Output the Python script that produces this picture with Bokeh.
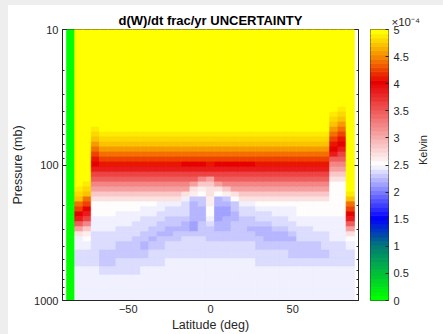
import math
from bokeh.plotting import figure
from bokeh.layouts import row, column
from bokeh.models import (Range1d, FixedTicker, LogAxis, LinearAxis,
                          ColumnDataSource, LinearColorMapper,
                          CustomJSTickFormatter, Div)
from bokeh.transform import transform
from bokeh.embed import file_html
from bokeh.resources import INLINE

TITLE = "d(W)/dt frac/yr UNCERTAINTY"
X_LABEL = "Latitude (deg)"
Y_LABEL = "Pressure (mb)"
CBAR_LABEL = "Kelvin"
CBAR_SCALE = "\u00d710\u207b\u2074"

# latitude bin centres (deg)
LATITUDES = [-85, -80, -75, -70, -65, -60, -55, -50, -45, -40, -35, -30,
             -25, -20, -15, -10, -5, 0, 5, 10, 15, 20, 25, 30, 35, 40, 45,
             50, 55, 60, 65, 70, 75, 80, 85]
LAT_HALF_WIDTH = 2.5

# pressure layer edges (mb), top to bottom
PRESSURE_EDGES = [10, 37.4, 40.7, 44.3, 48.2, 52.5, 57.1, 62.1, 67.7, 73.6,
                  80.2, 87.3, 95.0, 103.4, 112.5, 122.5, 133.3, 145.1, 157.9,
                  171.9, 187.1, 203.7, 221.7, 241.3, 262.7, 285.9, 311.2,
                  338.8, 368.8, 424.6, 488.9, 563.6, 648.9, 1000]

# uncertainty values (x1e-4) coded by one symbol per layer
LEVELS = {
    "G": 0.0, "Y": 5.0, "y": 4.9, "x": 4.8, "w": 4.7, "v": 4.6, "u": 4.45,
    "t": 4.25, "s": 4.1, "R": 4.0, "r": 3.9, "q": 3.65, "p": 3.45,
    "o": 3.25, "n": 3.05, "m": 2.85, "l": 2.7, "k": 2.6, "W": 2.55,
    "a": 2.46, "b": 2.38, "c": 2.31, "d": 2.24, "e": 2.16,
}

# one profile per latitude, layers top (10 mb) to bottom (1000 mb)
PROFILES = [
    "GGGGGGGGGGGGGGGGGGG" "GGGGGGGGGGGGGG",   # -85
    "YYYYYYYYYYYYYYYYYyx" "wutRrpnlaabbaa",   # -80
    "YYYYYYYYYYYYYYYYyxw" "utRrqomkWabbaa",   # -75
    "YYYYYyxwvutsRrqponm" "lWWWaaabbbbbaa",   # -70
    "YYYYYYyxwvutsrqponm" "lWWWaaabbbccba",   # -65
    "YYYYYYyxwvutsrqponm" "lWWWaaabbbccba",   # -60
    "YYYYYYyxwvutsrqponm" "lWWaaabbbccbba",   # -55
    "YYYYYYyxwvutsrqponm" "lWWaaabbbccbba",   # -50
    "YYYYYYyxwvutsrqponm" "lWWaabbbcccbba",   # -45
    "YYYYYYyxwvutsrqponm" "lWaabbbccdcbaa",   # -40
    "YYYYYYyxwvutsrqponm" "lWaabbccdcbbaa",   # -35
    "YYYYYYyxwvutsrqponm" "laabbccdccbbaa",   # -30
    "YYYYYYyxwvutsrqponm" "labbccddcbbaaa",   # -25
    "YYYYYYyxwvutsrqponm" "labbccdccbbaaa",   # -20
    "YYYYYYyxwvutRrqponl" "abbbcddcbbbaaa",   # -15
    "YYYYYYyxwvutRrqpnlk" "cddddeecbbbaaa",   # -10
    "YYYYYYyxwvutRrqomkW" "ccdddcccbbbaaa",   # -5
    "YYYYYYyxwvutsrqnmll" "kkWWabcccbbaaa",   # 0
    "YYYYYYyxwvutRrqpnlW" "ddeeeddccbbaaa",   # 5
    "YYYYYYyxwvutRrqpomk" "cdeedddccbbaaa",   # 10
    "YYYYYYyxwvutRrqponl" "Wccddccccbbaaa",   # 15
    "YYYYYYyxwvutRrqponm" "labbcccccbbaaa",   # 20
    "YYYYYYyxwvutRrqponm" "labbccdccbbaaa",   # 25
    "YYYYYYyxwvutsrqponm" "lWabbcddccbbaa",   # 30
    "YYYYYYyxwvutsrqponm" "lWabbcdddcbbaa",   # 35
    "YYYYYYyxwvutsrqponm" "lWaabbcddcbbaa",   # 40
    "YYYYYYyxwvutsrqponm" "lWaabbcddcbbaa",   # 45
    "YYYYYYyxwvutsrqponm" "lWaaabbcdccbaa",   # 50
    "YYYYYYyxwvutsrqponm" "lWWWaabbbccbaa",   # 55
    "YYYYYYyxwvutsrqponm" "lWWWaabbbccbaa",   # 60
    "YYYYYYyxwvutsrqponm" "lWWWaaabbccbaa",   # 65
    "YYYYYYyxwvutsrqponm" "lWWWaaabbbcbaa",   # 70
    "YYyxwvutsRrponmlWWW" "WWWWaaaaabbbaa",   # 75
    "YyxwvutsRrqponmlWWW" "WWWWaaaaabbbaa",   # 80
    "YYYYYYYYYYYYYYYYYYy" "wutRrpnlWabbaa",   # 85
]

X_TICKS = [-50, 0, 50]
Y_TICKS = [10, 100, 1000]
Y_MINOR = [20, 30, 40, 50, 60, 70, 80, 90, 200, 300, 400, 500, 600, 700, 800, 900]
CBAR_TICKS = [0, 0.5, 1, 1.5, 2, 2.5, 3, 3.5, 4, 4.5, 5]
CBAR_LOW, CBAR_HIGH = 0.0, 5.0

FONT = "Liberation Sans"
TEXT = "#262626"
GRAY = "#eeeeee"

# ---- colormap (green -> blue -> white -> red -> yellow) ----
CMAP_STOPS = [(0.0, (0, 255, 0)), (1.0, (0, 120, 120)), (1.5, (0, 0, 255)),
              (2.52, (255, 255, 255)), (4.05, (230, 0, 0)),
              (4.5, (245, 128, 0)), (5.0, (255, 255, 0))]
N_COLORS = 64


def cmap(v):
    for (v0, c0), (v1, c1) in zip(CMAP_STOPS[:-1], CMAP_STOPS[1:]):
        if v <= v1:
            t = (v - v0) / (v1 - v0)
            return "#%02x%02x%02x" % tuple(int(round(a + (b - a) * t)) for a, b in zip(c0, c1))
    return "#%02x%02x%02x" % CMAP_STOPS[-1][1]


PALETTE = [cmap(CBAR_LOW + (CBAR_HIGH - CBAR_LOW) * i / (N_COLORS - 1)) for i in range(N_COLORS)]
mapper = LinearColorMapper(palette=PALETTE, low=CBAR_LOW, high=CBAR_HIGH)

# ---- cells ----
cells = dict(left=[], right=[], top=[], bottom=[], value=[])
assert len(PROFILES) == len(LATITUDES)
for lat, prof in zip(LATITUDES, PROFILES):
    assert len(prof) == len(PRESSURE_EDGES) - 1, (lat, len(prof))
    for j, ch in enumerate(prof):
        cells["left"].append(lat - LAT_HALF_WIDTH)
        cells["right"].append(lat + LAT_HALF_WIDTH)
        cells["top"].append(PRESSURE_EDGES[j])
        cells["bottom"].append(PRESSURE_EDGES[j + 1])
        cells["value"].append(LEVELS[ch])
src = ColumnDataSource(cells)

p = figure(width=354, height=329, title=TITLE,
           x_range=Range1d(-90, 90), y_range=Range1d(1000, 10),
           y_axis_type="log", output_backend="svg", toolbar_location=None,
           min_border_left=50, min_border_right=4, min_border_top=24,
           min_border_bottom=33)
p.quad(left="left", right="right", top="top", bottom="bottom", source=src,
       fill_color=transform("value", mapper),
       line_color=transform("value", mapper), line_width=0.8)

p.grid.visible = False
p.background_fill_color = "white"
p.border_fill_color = "white"
p.outline_line_color = TEXT
p.outline_line_width = 1

p.title.text_font = FONT
p.title.text_font_size = "13px"
p.title.text_font_style = "bold"
p.title.text_color = "#000000"
p.title.align = "center"
p.title.standoff = 4

p.xaxis.ticker = FixedTicker(ticks=X_TICKS)
p.xaxis.formatter = CustomJSTickFormatter(
    code="return tick < 0 ? '\u2212' + Math.abs(tick) : String(tick);")
p.xaxis.major_tick_in = 0
p.xaxis.major_tick_out = 0
p.xaxis.minor_tick_line_color = None
p.xaxis.axis_label = X_LABEL
p.xaxis.major_label_standoff = 4
p.xaxis.axis_label_standoff = 2

p.yaxis.ticker = FixedTicker(ticks=Y_TICKS, minor_ticks=Y_MINOR)
p.yaxis.formatter = CustomJSTickFormatter(code="return String(tick);")
p.yaxis.axis_label = Y_LABEL
p.yaxis.major_label_standoff = 4
p.yaxis.axis_label_standoff = 6

for ax in [p.xaxis[0], p.yaxis[0]]:
    ax.axis_line_color = TEXT
    ax.major_tick_line_color = TEXT
    ax.major_label_text_font = FONT
    ax.major_label_text_font_size = "11px"
    ax.major_label_text_color = TEXT
    ax.axis_label_text_font = FONT
    ax.axis_label_text_font_size = "12.5px"
    ax.axis_label_text_font_style = "normal"
    ax.axis_label_text_color = TEXT
p.yaxis.minor_tick_line_color = TEXT
p.yaxis.major_tick_in = 4
p.yaxis.major_tick_out = 0
p.yaxis.minor_tick_in = 2
p.yaxis.minor_tick_out = 0

# inner ticks on the right edge (labels invisible)
raxis = LogAxis(ticker=FixedTicker(ticks=Y_TICKS, minor_ticks=Y_MINOR),
                formatter=CustomJSTickFormatter(code="return String(tick);"),
                major_label_text_font_size="2px", major_label_text_alpha=0,
                major_label_standoff=0, axis_line_color=None,
                major_tick_in=4, major_tick_out=0, minor_tick_in=2,
                minor_tick_out=0, major_tick_line_color=TEXT,
                minor_tick_line_color=TEXT)
p.add_layout(raxis, "right")

# ---- colour bar as its own narrow plot ----
cb = dict(left=[], right=[], top=[], bottom=[], color=[])
for i, col in enumerate(PALETTE):
    cb["left"].append(0)
    cb["right"].append(1)
    cb["bottom"].append(CBAR_LOW + (CBAR_HIGH - CBAR_LOW) * i / N_COLORS)
    cb["top"].append(CBAR_LOW + (CBAR_HIGH - CBAR_LOW) * (i + 1) / N_COLORS)
    cb["color"].append(col)
cb_src = ColumnDataSource(cb)

c = figure(width=81, height=329, x_range=Range1d(0, 1),
           y_range=Range1d(CBAR_LOW, CBAR_HIGH), title=CBAR_SCALE,
           output_backend="svg",
           toolbar_location=None, min_border_left=8, min_border_right=55,
           min_border_top=24, min_border_bottom=33)
c.xaxis.visible = False
c.yaxis.visible = False
c.quad(left="left", right="right", top="top", bottom="bottom", source=cb_src,
       fill_color="color", line_color="color", line_width=0.8)
c.grid.visible = False
c.outline_line_color = TEXT
c.outline_line_width = 1
c.border_fill_color = "white"
c.background_fill_color = "white"
c.title.align = "left"
c.title.offset = 21
c.title.standoff = 4
c.title.text_font = FONT
c.title.text_font_size = "11.5px"
c.title.text_font_style = "normal"
c.title.text_color = TEXT

ya = LinearAxis(ticker=FixedTicker(ticks=CBAR_TICKS),
                formatter=CustomJSTickFormatter(code="return String(tick);"),
                major_tick_in=3, major_tick_out=0, axis_line_color=None,
                major_tick_line_color=TEXT, minor_tick_line_color=None,
                major_label_standoff=5, major_label_text_font=FONT,
                major_label_text_font_size="11px", major_label_text_color=TEXT,
                axis_label=CBAR_LABEL, axis_label_standoff=11,
                axis_label_orientation=math.pi / 2,
                axis_label_text_font=FONT, axis_label_text_font_size="11px",
                axis_label_text_font_style="normal",
                axis_label_text_color=TEXT)
c.add_layout(ya, "right")

left_strip = Div(width=8, height=334, margin=(0, 0, 0, 0),
                 styles={"background-color": GRAY})
top_strip = Div(width=435, height=5, margin=(0, 0, 0, 0),
                styles={"background-color": GRAY})
layout = row(left_strip, column(top_strip, row(p, c)))

open("out.html", "w").write(file_html(layout, INLINE))
